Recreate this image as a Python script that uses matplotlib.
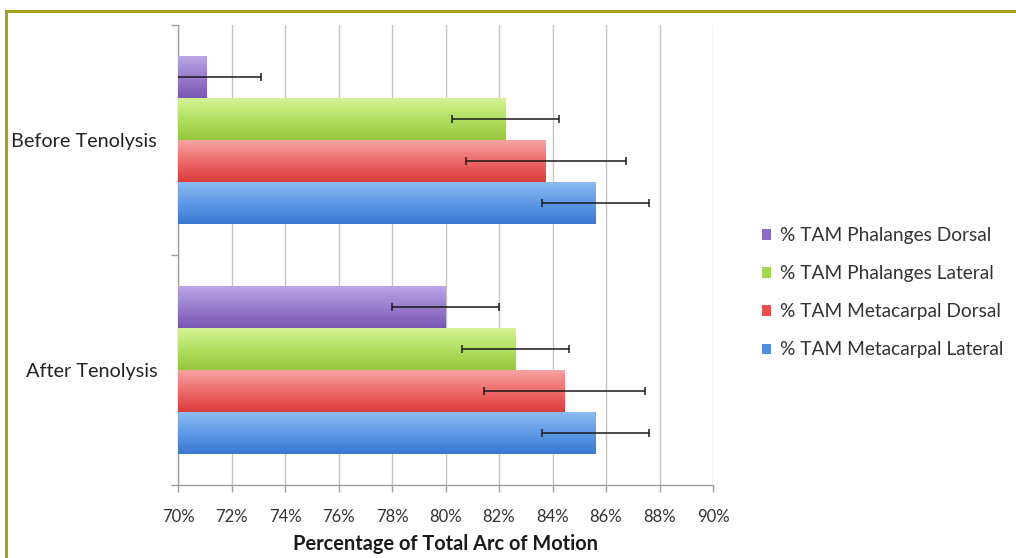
import matplotlib
matplotlib.use("Agg")
import matplotlib.pyplot as plt
import numpy as np
from matplotlib.colors import LinearSegmentedColormap
from matplotlib.patches import Patch
from matplotlib.lines import Line2D

plt.rcParams['font.family'] = ['Lato', 'DejaVu Sans']

categories = ["After Tenolysis", "Before Tenolysis"]
series_names = ["% TAM Metacarpal Lateral", "% TAM Metacarpal Dorsal",
                "% TAM Phalanges Lateral", "% TAM Phalanges Dorsal"]
metacarpal_lateral = [85.6, 85.6]
metacarpal_dorsal = [84.45, 83.75]
phalanges_lateral = [82.6, 82.25]
phalanges_dorsal = [80.0, 71.05]
metacarpal_lateral_err = [2.0, 2.0]
metacarpal_dorsal_err = [3.0, 3.0]
phalanges_lateral_err = [2.0, 2.0]
phalanges_dorsal_err = [2.0, 2.05]
x_ticks = [70, 72, 74, 76, 78, 80, 82, 84, 86, 88, 90]

values = [metacarpal_lateral, metacarpal_dorsal, phalanges_lateral, phalanges_dorsal]
errors = [metacarpal_lateral_err, metacarpal_dorsal_err, phalanges_lateral_err, phalanges_dorsal_err]
# (top colour, middle colour, bottom colour)
grads = [("#8dbaf2", "#5f9ae6", "#3a78d2"),
         ("#f7a2a2", "#ef6a6a", "#dc3c3c"),
         ("#d4f294", "#b2e062", "#94c63a"),
         ("#bba6e4", "#9a7ccc", "#7a58b6")]
solid = ["#4f8fe0", "#e85050", "#a6d650", "#8a6cc4"]

fig = plt.figure(figsize=(10.16, 5.58), dpi=100)
ax = fig.add_axes([178/1016, 1-485/558, 535/1016, 460/558])

bar_h = 0.1826
y = np.arange(len(categories))
offsets = (np.arange(4) - 1.5) * bar_h

for i in range(4):
    bars = ax.barh(y + offsets[i], values[i], height=bar_h, color=solid[i],
                   zorder=2, linewidth=0)
    cmap = LinearSegmentedColormap.from_list("g%d" % i, list(grads[i][::-1]))
    grad = np.linspace(0, 1, 64).reshape(-1, 1)
    for b in bars:
        x0, y0, w, h = b.get_x(), b.get_y(), b.get_width(), b.get_height()
        ax.imshow(grad, extent=[x0, x0 + w, y0, y0 + h], origin='lower',
                  aspect='auto', cmap=cmap, zorder=3, interpolation='bilinear')
    ax.errorbar(values[i], y + offsets[i], xerr=errors[i], fmt='none',
                ecolor='#1a1a1a', elinewidth=1.1, capsize=3, capthick=1.1, zorder=5)

ax.set_xlim(70, 90)
ax.set_ylim(-0.5, 1.5)
ax.set_xticks(x_ticks)
ax.set_xticklabels(["%d%%" % t for t in x_ticks])
ax.set_yticks(y)
ax.set_yticklabels(categories)
ax.set_yticks([-0.5, 0.5, 1.5], minor=True)
ax.tick_params(axis='y', which='major', length=0, pad=15, labelsize=14.3, labelcolor='#222222')
ax.tick_params(axis='y', which='minor', length=5, color='#a0a0a0', width=1)
ax.tick_params(axis='x', length=5, color='#a0a0a0', width=1, pad=12, labelsize=12, labelcolor='#333333')
ax.grid(axis='x', color='#c4c4c4', linewidth=1, zorder=0)
ax.set_axisbelow(True)
for s in ['top', 'right']:
    ax.spines[s].set_visible(False)
for s in ['left', 'bottom']:
    ax.spines[s].set_color('#a0a0a0')
    ax.spines[s].set_linewidth(1)
ax.set_xlabel("Percentage of Total Arc of Motion", fontsize=14.4, fontweight='bold',
              color='#1a1a1a', labelpad=7)

handles = [Patch(facecolor=solid[i], edgecolor='none', label=series_names[i]) for i in [3, 2, 1, 0]]
leg = fig.legend(handles=handles, loc='upper left', bbox_to_anchor=(745/1016, 1-210/558),
                 frameon=False, fontsize=13.8, handlelength=0.45, handleheight=0.45,
                 handletextpad=0.5, labelspacing=1.1, labelcolor='#333333')

# olive frame around the figure (extends past right and bottom edges)
fig.add_artist(Line2D([6/1016, 1.01], [1-11/558, 1-11/558], color='#a89f1c', linewidth=2.2,
                      transform=fig.transFigure))
fig.add_artist(Line2D([6/1016, 6/1016], [1-11/558, -0.01], color='#a89f1c', linewidth=2.2,
                      transform=fig.transFigure))

fig.savefig("out.png", dpi=100)
